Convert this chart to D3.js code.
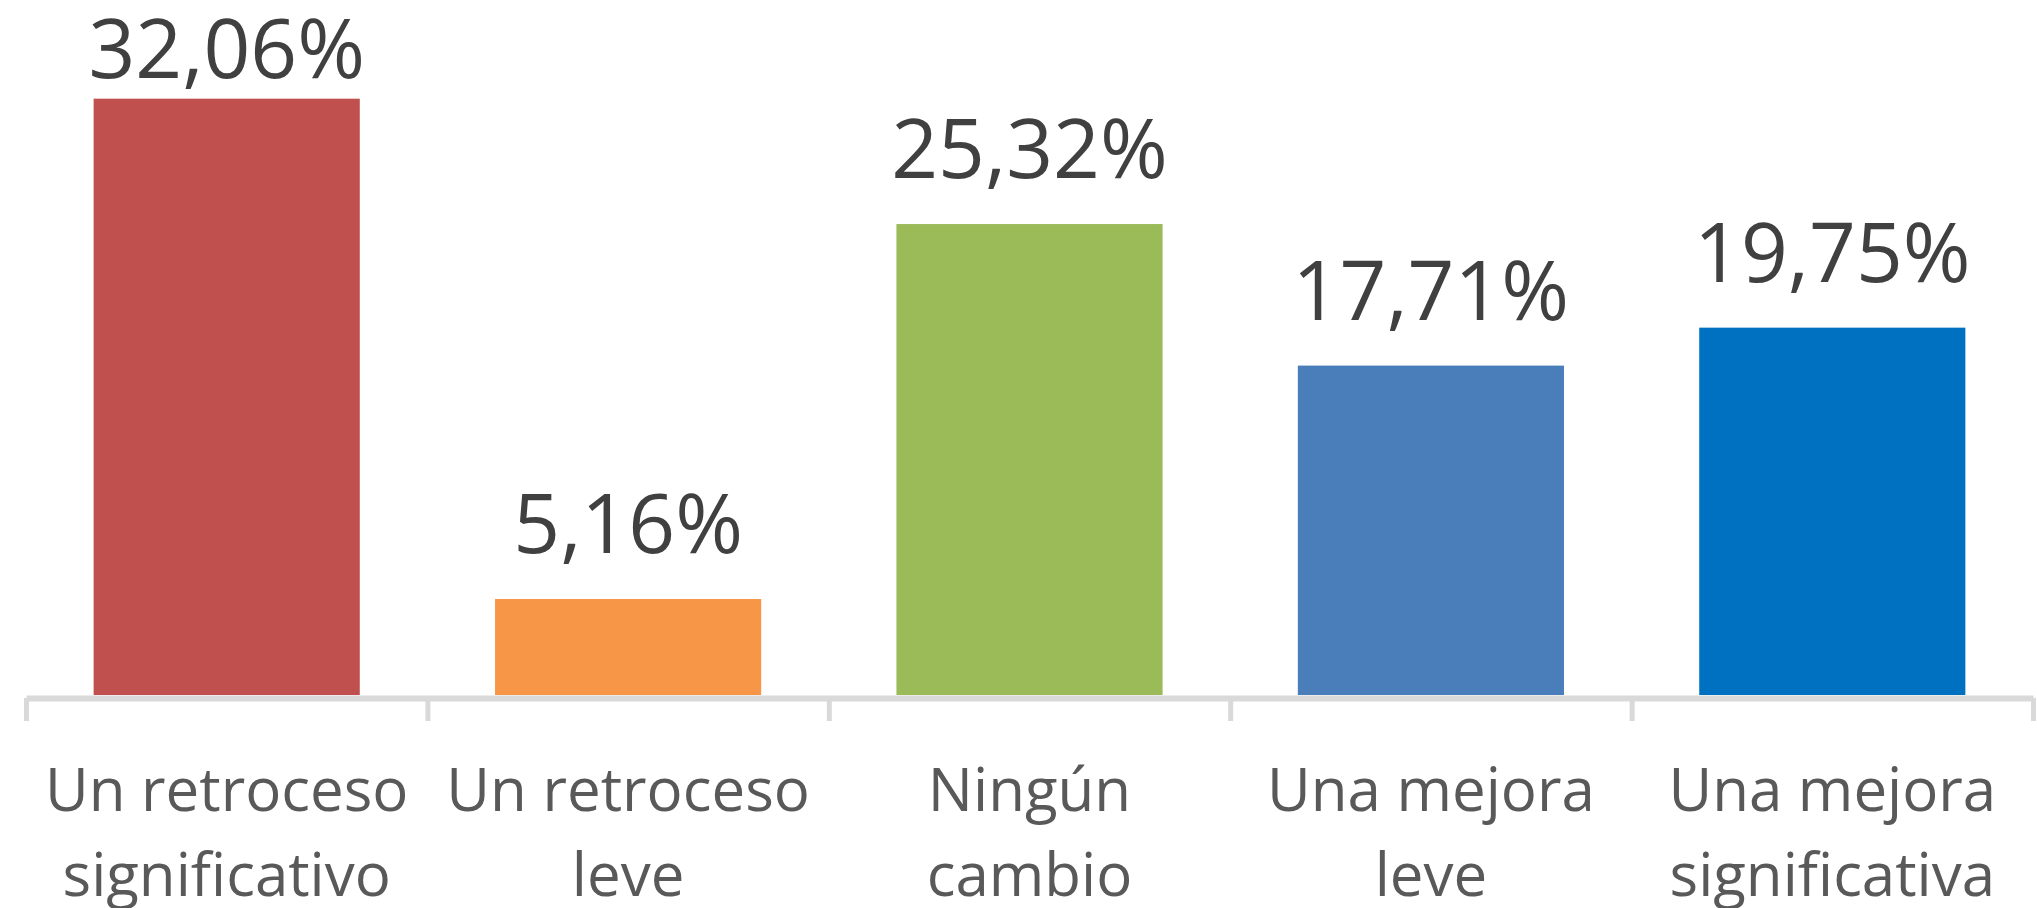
<!DOCTYPE html>
<html>
<head>
<meta charset="utf-8">
<script src="https://cdn.jsdelivr.net/npm/d3@7/dist/d3.min.js"></script>
<style>
    html, body { margin: 0; padding: 0; background: #ffffff; }
    svg { display: block; }
    .value-label { font-family: "Open Sans", sans-serif; font-size: 82px; fill: #404040; }
    .cat-label { font-family: "Open Sans", sans-serif; font-size: 60px; fill: #595959; }
</style>
</head>
<body>
<div id="chart"><svg></svg></div>
<script>
// chart data
var categories = ["Un retroceso significativo", "Un retroceso leve", "Ningún cambio", "Una mejora leve", "Una mejora significativa"];
var categoryLines = [["Un retroceso", "significativo"], ["Un retroceso", "leve"], ["Ningún", "cambio"], ["Una mejora", "leve"], ["Una mejora", "significativa"]];
var values = [32.06, 5.16, 25.32, 17.71, 19.75];
var colors = ["#C0504D", "#F79646", "#9BBB59", "#4A7EBB", "#0070C0"];

var width = 2037,
    height = 908;

var svg = d3.select("#chart svg").attr("width", width).attr("height", height);

var x = d3.scaleBand()
    .domain(categories)
    .range([26, 2033])
    .paddingInner(0.337)
    .paddingOuter(0.1685);

var y = d3.scaleLinear()
    .domain([0, 35])
    .range([695, 44]);

// comma as decimal mark
var locale = d3.formatLocale({ decimal: ",", thousands: ".", grouping: [3], currency: ["", "€"] });
var fmt = locale.format(".2f");

var rows = categories.map(function(c, i) {
    return { cat: c, value: values[i], color: colors[i], lines: categoryLines[i] };
});

// bars
svg.append("g").attr("class", "bars")
    .selectAll("rect")
    .data(rows)
    .enter().append("rect")
    .attr("x", function(d) { return x(d.cat); })
    .attr("y", function(d) { return y(d.value); })
    .attr("width", x.bandwidth())
    .attr("height", function(d) { return y(0) - y(d.value); })
    .style("fill", function(d) { return d.color; });

// axis with ticks between the categories
var edges = d3.scaleLinear().domain([0, categories.length]).range(x.range());
var axis = svg.append("g")
    .attr("class", "x-axis")
    .attr("transform", "translate(0," + (y(0) + 3) + ")")
    .call(d3.axisBottom(edges)
        .tickValues(d3.range(categories.length + 1))
        .tickSize(23)
        .tickSizeOuter(0)
        .tickFormat(""));
axis.select(".domain").style("stroke", "#D9D9D9").style("stroke-width", 6);
axis.selectAll(".tick line").style("stroke", "#D9D9D9").style("stroke-width", 5);

// value labels, kept inside the chart top
svg.append("g").attr("class", "labels")
    .selectAll("text")
    .data(rows)
    .enter().append("text")
    .attr("class", "value-label")
    .attr("text-anchor", "middle")
    .attr("x", function(d) { return x(d.cat) + x.bandwidth() / 2; })
    .attr("y", function(d) { return Math.max(y(d.value) - 46, 78); })
    .text(function(d) { return fmt(d.value) + "%"; });

// category labels, two lines each
var cats = svg.append("g").attr("class", "categories")
    .selectAll("text")
    .data(rows)
    .enter().append("text")
    .attr("class", "cat-label")
    .attr("text-anchor", "middle")
    .attr("x", function(d) { return x(d.cat) + x.bandwidth() / 2; })
    .attr("y", 811);

cats.selectAll("tspan")
    .data(function(d) { return d.lines.map(function(l) { return { text: l, cx: x(d.cat) + x.bandwidth() / 2 }; }); })
    .enter().append("tspan")
    .attr("x", function(d) { return d.cx; })
    .attr("dy", function(d, i) { return i === 0 ? 0 : 85; })
    .text(function(d) { return d.text; });
</script>
</body>
</html>
